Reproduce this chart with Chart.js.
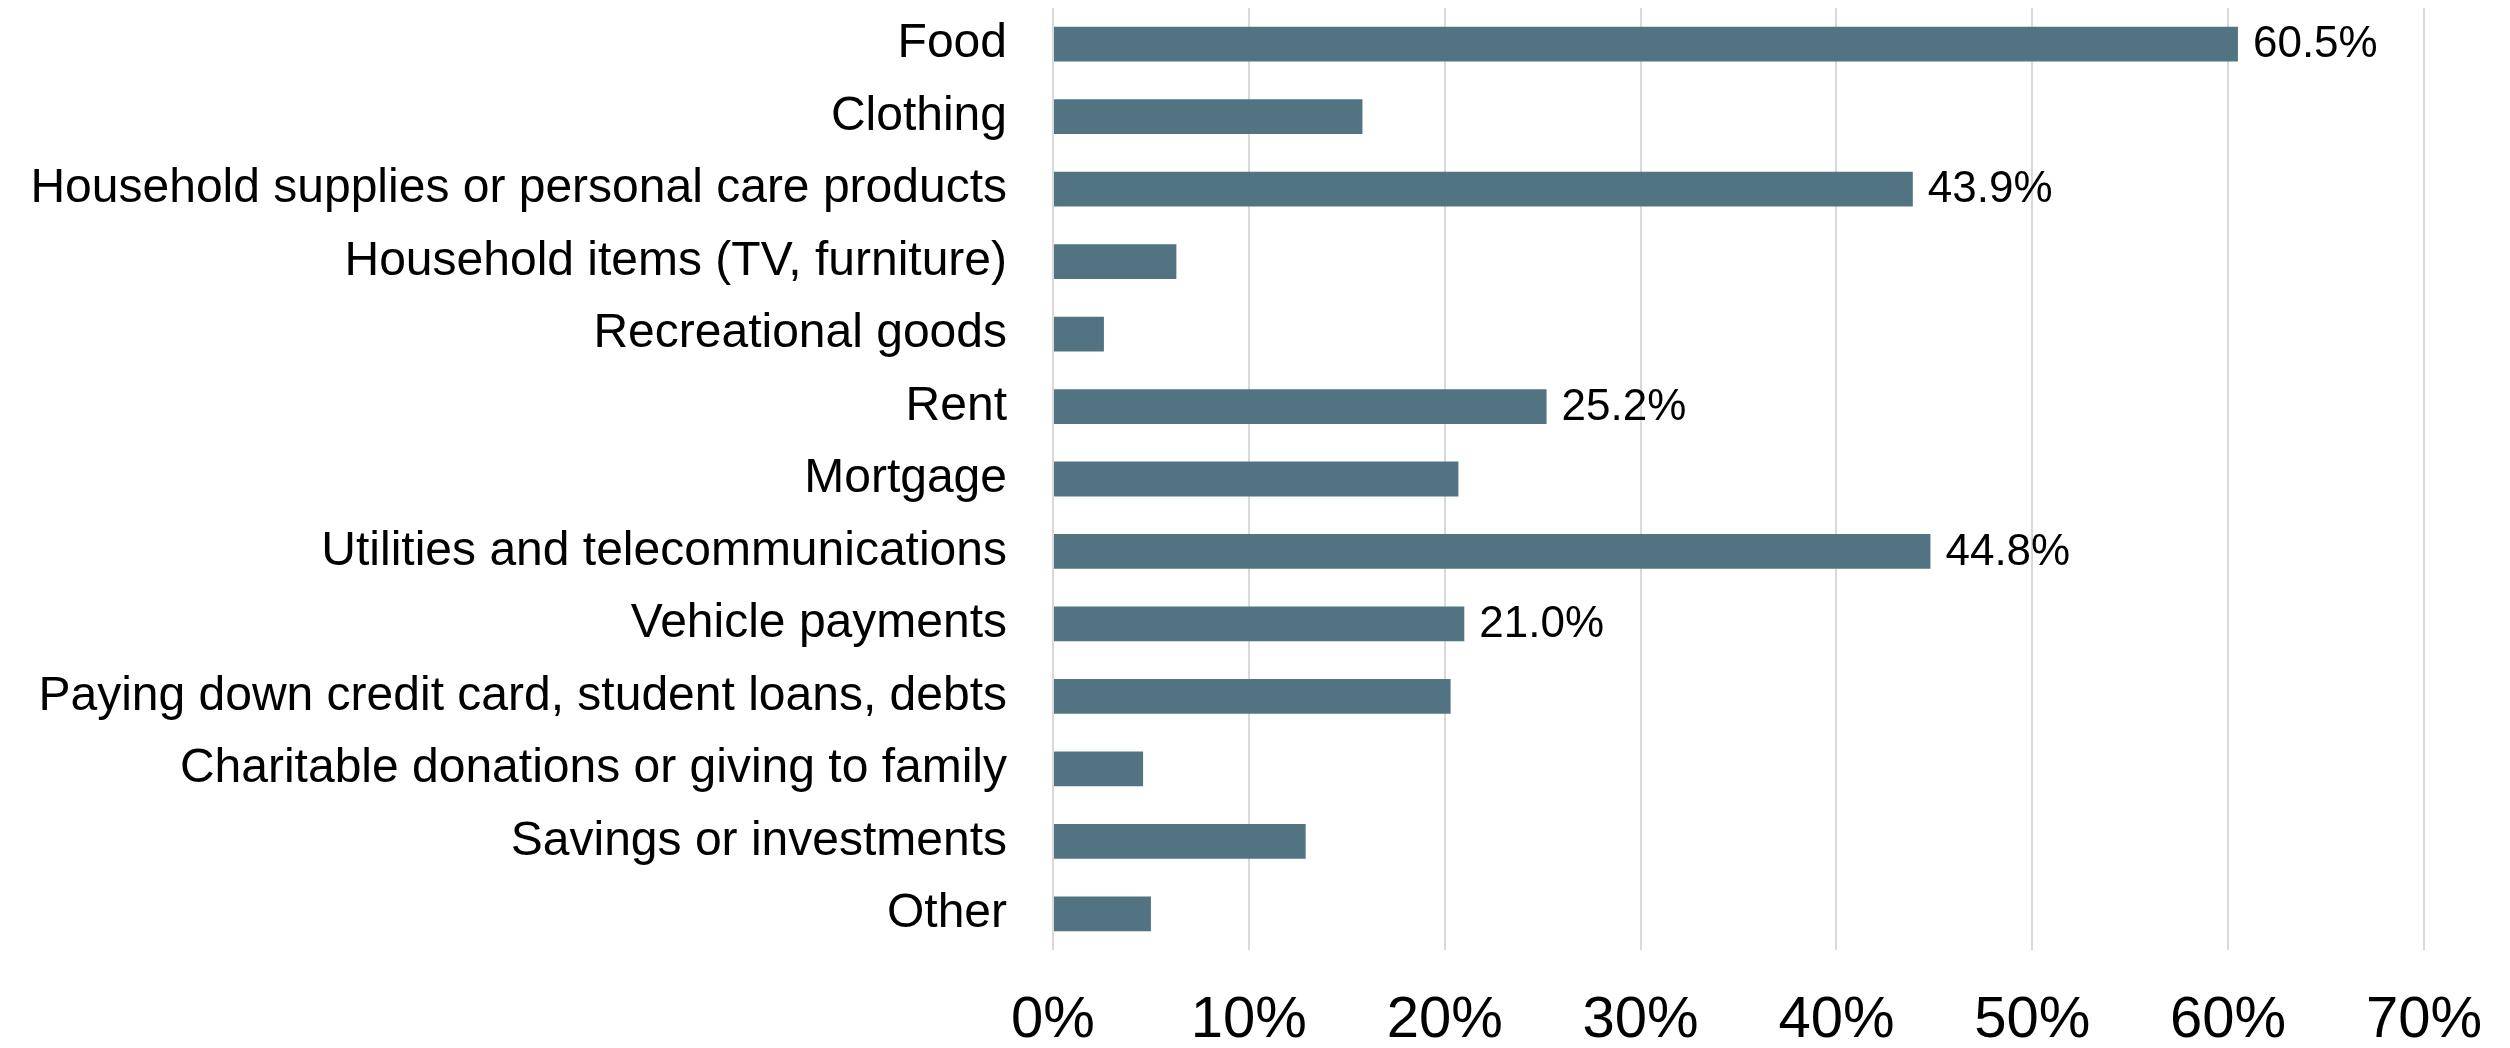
<!DOCTYPE html>
<html>
<head>
<meta charset="utf-8">
<script src="https://cdn.jsdelivr.net/npm/chart.js@4/dist/chart.umd.min.js"></script>
<style>
  html, body { margin: 0; padding: 0; background: #fff; }
  #wrap { width: 2510px; height: 1048px; }
</style>
</head>
<body>
<div id="wrap"><canvas id="spendChart"></canvas></div>
<script>
/* ===== DATA ===== */
const CATEGORIES = [
  'Food',
  'Clothing',
  'Household supplies or personal care products',
  'Household items (TV, furniture)',
  'Recreational goods',
  'Rent',
  'Mortgage',
  'Utilities and telecommunications',
  'Vehicle payments',
  'Paying down credit card, student loans, debts',
  'Charitable donations or giving to family',
  'Savings or investments',
  'Other'
];
const SHARES = [60.5, 15.8, 43.9, 6.3, 2.6, 25.2, 20.7, 44.8, 21.0, 20.3, 4.6, 12.9, 5.0]; // % of respondents
const LABELLED = [true, false, true, false, false, true, false, true, true, false, false, false, false];
const X_MAX = 70;
const X_STEP = 10;

/* ===== STYLE ===== */
const FONT = '"Liberation Sans", Arial, sans-serif';
const BAR_COLOR = '#527482';
const GRID_COLOR = '#d9d9d9';

// value labels to the right of selected bars
const barValueLabels = {
  id: 'barValueLabels',
  afterDatasetsDraw(chart) {
    const ctx = chart.ctx;
    const meta = chart.getDatasetMeta(0);
    ctx.save();
    ctx.font = `44px ${FONT}`;
    ctx.fillStyle = '#000';
    ctx.textAlign = 'left';
    ctx.textBaseline = 'middle';
    meta.data.forEach((bar, i) => {
      if (!LABELLED[i]) return;
      ctx.fillText(SHARES[i].toFixed(1) + '%', bar.x + 15, bar.y + 1);
    });
    ctx.restore();
  }
};

// fixed axis sizes so the plot area lands where it should
const noPad = s => { s.paddingTop = 0; s.paddingBottom = 0; s.paddingLeft = 0; s.paddingRight = 0; };

new Chart(document.getElementById('spendChart'), {
  type: 'bar',
  data: {
    labels: CATEGORIES,
    datasets: [{
      data: SHARES,
      backgroundColor: BAR_COLOR,
      borderWidth: 0,
      barPercentage: 0.48,
      categoryPercentage: 1.0
    }]
  },
  options: {
    indexAxis: 'y',
    responsive: true,
    maintainAspectRatio: false,
    animation: false,
    layout: { padding: { top: 8, right: 86, left: 0, bottom: 0 } },
    plugins: {
      legend: { display: false },
      tooltip: { enabled: false }
    },
    scales: {
      x: {
        min: 0,
        max: X_MAX,
        ticks: {
          stepSize: X_STEP,
          color: '#000',
          font: { family: FONT, size: 58 },
          padding: 36,
          maxRotation: 0,
          callback: v => v + '%'
        },
        grid: { color: GRID_COLOR, lineWidth: 2, drawTicks: false },
        border: { display: false },
        afterFit: s => { s.height = 98; noPad(s); }
      },
      y: {
        ticks: {
          color: '#000',
          font: { family: FONT, size: 48 },
          padding: 46,
          autoSkip: false
        },
        grid: { display: false, drawTicks: false },
        border: { display: false },
        afterFit: s => { s.width = 1053; noPad(s); }
      }
    }
  },
  plugins: [barValueLabels]
});
</script>
</body>
</html>
